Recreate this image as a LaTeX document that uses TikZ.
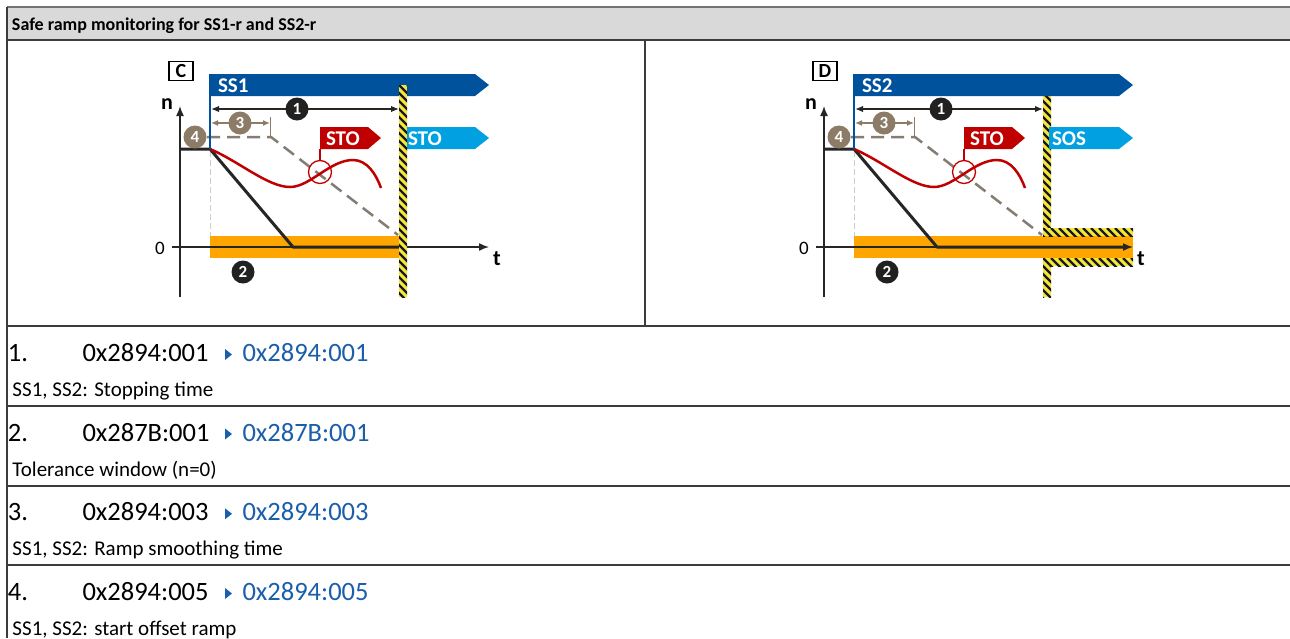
\documentclass[tikz,border=0pt]{standalone}
\usepackage{fontspec}
\setmainfont{Carlito}
\usetikzlibrary{arrows.meta}
\definecolor{dblue}{HTML}{00529C}
\definecolor{lblue}{HTML}{00A0E1}
\definecolor{sred}{HTML}{C00000}
\definecolor{sorange}{HTML}{FFA500}
\definecolor{taupe}{HTML}{8C7B66}
\definecolor{dashgray}{HTML}{857C74}
\definecolor{hdrgray}{HTML}{D9D9D9}
\definecolor{linegray}{HTML}{3C3C3C}
\definecolor{codeblue}{HTML}{1B5EAB}
\definecolor{hatchyellow}{HTML}{F5E63A}
\newcommand\hatchrect[4]{%
  \begin{scope}
    \clip (#1,#2) rectangle (#3,#4);
    \fill[hatchyellow] (#1,#2) rectangle (#3,#4);
    \foreach \k in {-240,-232,...,120}
      \draw[line width=2.3pt, black!90] ({#1+\k},#2) -- ++(260,260);
  \end{scope}}
\tikzset{
  every node/.style={inner sep=0pt, outer sep=0pt},
  ax/.style={line width=1.5pt, draw=black!85, -{Latex[length=10pt,width=8pt]}},
  speed/.style={line width=3pt, draw=black!85, line join=round},
  redc/.style={line width=2.5pt, draw=sred},
  ramp/.style={line width=2.5pt, draw=dashgray, dash pattern=on 13pt off 7pt},
  lgdash/.style={line width=1pt, draw=black!20, dash pattern=on 6pt off 3pt},
  dimk/.style={line width=1.5pt, draw=black!85, {Latex[length=8pt,width=6.5pt]}-{Latex[length=8pt,width=6.5pt]}},
  dimt/.style={line width=1.5pt, draw=taupe, {Latex[length=7pt,width=6pt]}-{Latex[length=7pt,width=6pt]}},
  numk/.style={circle, fill=black!87, minimum size=23pt, text=white, font=\bfseries\fontsize{17}{17}\selectfont},
  numt/.style={numk, fill=taupe},
  flagtxt/.style={text=white, font=\bfseries\fontsize{21}{21}\selectfont, anchor=base west},
  axlbl/.style={font=\bfseries\fontsize{22}{22}\selectfont},
  zerolbl/.style={font=\fontsize{19}{19}\selectfont},
  tline/.style={line width=1.5pt, draw=linegray},
  hdr/.style={anchor=base west, font=\bfseries\fontsize{18}{18}\selectfont},
  rownum/.style={anchor=base west, font=\fontsize{26.5}{26.5}\selectfont},
  code/.style={anchor=base west, font=\fontsize{26.5}{26.5}\selectfont},
  desc/.style={anchor=base west, font=\fontsize{21}{21}\selectfont},
}
% #1 prefix, #2 x shift, #3 letter, #4 SS label, #5 right flag label,
% #6 orange end, #7 black line end, #8 before axes, #9 after all
\newcommand\panel[9]{%
\begin{scope}[shift={(#2,0)}]
  \fill[sorange] (210,236) rectangle (#6,258);
  #8
  \coordinate (#1g0) at (210,151); \coordinate (#1g1) at (210,236);
  \draw[lgdash] (#1g0) -- (#1g1);
  \coordinate (#1n0) at (180,297); \coordinate (#1n1) at (180,106);
  \draw[ax] (#1n0) -- (#1n1);
  \coordinate (#1t0) at (172,247); \coordinate (#1t1) at (489,247);
  \draw[ax] (#1t0) -- (#1t1);
  \node[axlbl] (#1nl) at (167,104) {n};
  \node[zerolbl] (#1zl) at (160,248) {0};
  \node[axlbl] (#1tl) at (497,259) {t};
  \coordinate (#1s0) at (180,149); \coordinate (#1s1) at (210,149);
  \coordinate (#1s2) at (293,247); \coordinate (#1s3) at (#7,247);
  \draw[speed] (#1s0) -- (#1s1) -- (#1s2) -- (#1s3);
  \node[numt] (#1c4) at (195,137) {4};
  \coordinate (#1r0) at (207,137); \coordinate (#1r1) at (271,137); \coordinate (#1r2) at (398,235);
  \draw[ramp] (#1r0) -- (#1r1) -- (#1r2);
  \draw[redc] (#1s1) .. controls (240,162) and (268,187) .. (290,187)
     .. controls (310,187) and (330,160) .. (353,160)
     .. controls (367,160) and (376,174) .. (381,188);
  \node[draw=sred, circle, line width=1.3pt, minimum size=23pt] (#1rc) at (320,172) {};
  \fill[sred] (320,127) -- (368,127) -- (381,138) -- (368,149) -- (320,149) -- cycle;
  \node[flagtxt] (#1sto) at (326,145) {STO};
  \coordinate (#1pole) at (320,149);
  \draw[sred, line width=1.3pt] (#1rc.north) -- (#1pole);
  \fill[lblue] (405,127) -- (475,127) -- (489,138) -- (475,149) -- (405,149) -- cycle;
  \node[flagtxt] (#1rf) at (408,145) {#5};
  \fill[dblue] (210,74) -- (475,74) -- (489,85) -- (475,96) -- (210,96) -- cycle;
  \node[flagtxt] (#1ss) at (218,92.5) {#4};
  \coordinate (#1bt) at (210,74);
  \draw[dblue, line width=1.5pt] (#1bt) -- (#1s1);
  \coordinate (#1d1a) at (211,109); \coordinate (#1d1b) at (399,109);
  \draw[dimk] (#1d1a) -- (#1d1b);
  \node[numk] (#1c1) at (297,109) {1};
  \coordinate (#1d3a) at (211,123); \coordinate (#1d3b) at (270,123);
  \draw[dimt] (#1d3a) -- (#1d3b);
  \coordinate (#1k0) at (270.5,117); \coordinate (#1k1) at (270.5,138);
  \draw[taupe, line width=1.3pt] (#1k0) -- (#1k1);
  \node[numt] (#1c3) at (240,123) {3};
  \node[numk] (#1c2) at (243,272) {2};
  \node[draw, line width=1.2pt, minimum width=24pt, minimum height=19pt,
        font=\bfseries\fontsize{20}{20}\selectfont] (#1box) at (181,71) {#3};
  #9
\end{scope}}
\begin{document}
\begin{tikzpicture}[x={(1pt,0)}, y={(0,-1pt)}]
\useasboundingbox (0,0) rectangle (1290,638);
\fill[white] (0,0) rectangle (1290,638);
% table
\fill[hdrgray] (7,7) rectangle (1290,40);
\draw[line width=1.5pt, draw=black!55] (7,7) -- (1290,7);
\draw[tline] (7,40) -- (1290,40);
\draw[tline] (7,7) -- (7,638);
\draw[tline] (645,40) -- (645,326);
\foreach \yy in {326,406,486,565} \draw[tline] (7,\yy) -- (1290,\yy);
\node[hdr] (title) at (12,30) {Safe ramp monitoring for SS1-r and SS2-r};
% panels
\panel{C}{0}{C}{SS1}{STO}{400}{399}{}{\hatchrect{399}{85}{407}{297}}
\panel{D}{644}{D}{SS2}{SOS}{489}{481}{%
  \hatchrect{399}{85}{407}{236}\hatchrect{399}{258}{407}{297}%
  \hatchrect{399}{228}{489}{236}\hatchrect{399}{258}{489}{266}}{}
% rows
\node[rownum] (r1n) at (8,361.5) {1.};
\node[code] (r1c) at (82.5,361.5) {0x2894:001};
\fill[codeblue] (225,349) -- (232,354.5) -- (225,360) -- cycle;
\node[code, text=codeblue] (r1l) at (242.5,361.5) {0x2894:001};
\node[desc] (r1d) at (12.5,396) {SS1, SS2: Stopping time};
\node[rownum] (r2n) at (8,441) {2.};
\node[code] (r2c) at (82.5,441) {0x287B:001};
\fill[codeblue] (225,428.5) -- (232,434) -- (225,439.5) -- cycle;
\node[code, text=codeblue] (r2l) at (242.5,441) {0x287B:001};
\node[desc] (r2d) at (12.5,476.5) {Tolerance window (n=0)};
\node[rownum] (r3n) at (8,520.7) {3.};
\node[code] (r3c) at (82.5,520.7) {0x2894:003};
\fill[codeblue] (225,508.3) -- (232,513.8) -- (225,519.3) -- cycle;
\node[code, text=codeblue] (r3l) at (242.5,520.7) {0x2894:003};
\node[desc] (r3d) at (12.5,555.5) {SS1, SS2: Ramp smoothing time};
\node[rownum] (r4n) at (8,600.5) {4.};
\node[code] (r4c) at (82.5,600.5) {0x2894:005};
\fill[codeblue] (225,588) -- (232,593.5) -- (225,599) -- cycle;
\node[code, text=codeblue] (r4l) at (242.5,600.5) {0x2894:005};
\node[desc] (r4d) at (12.5,635) {SS1, SS2: start offset ramp};
\end{tikzpicture}
\end{document}
